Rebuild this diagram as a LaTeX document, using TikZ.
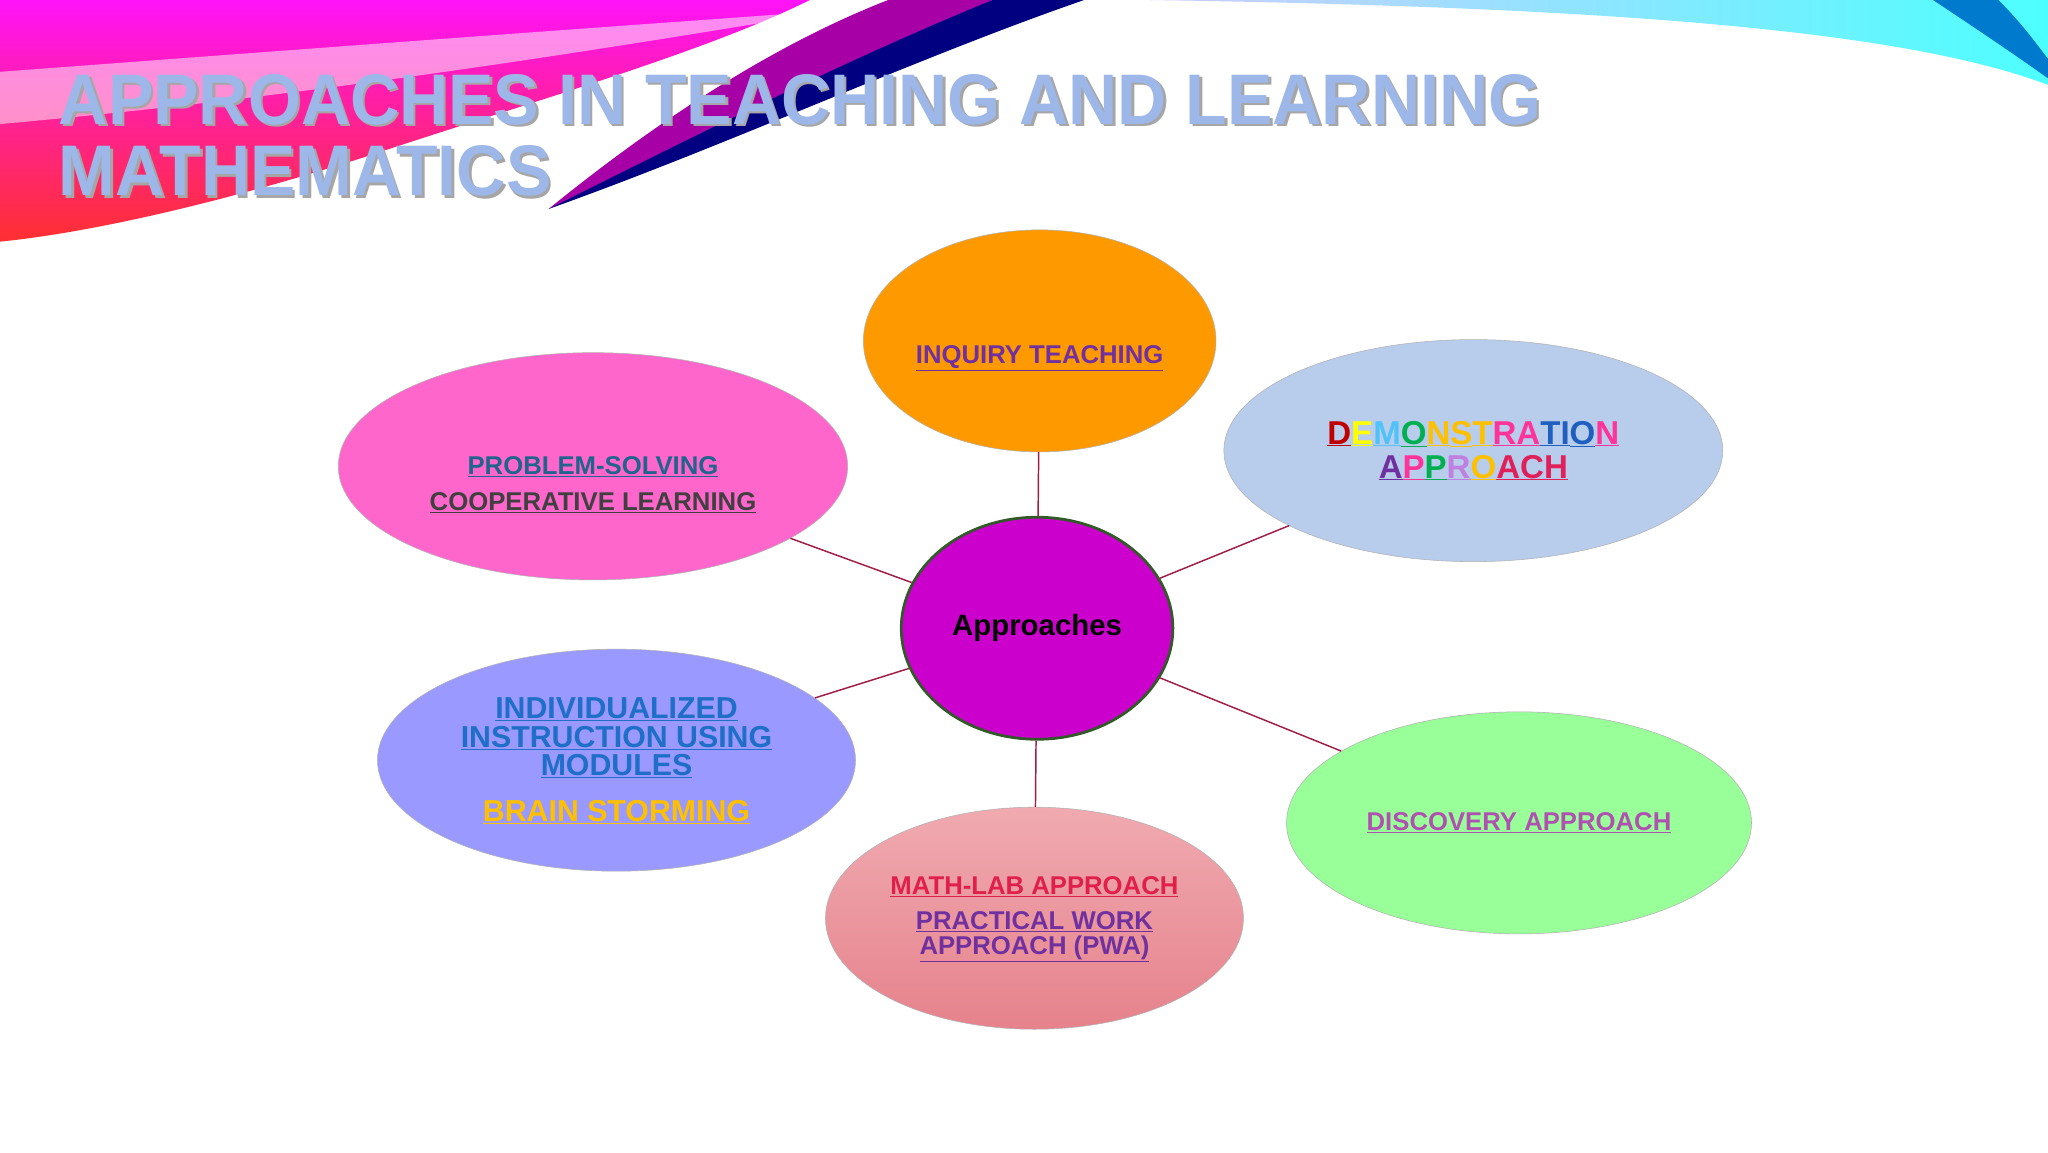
\documentclass[tikz,border=0pt]{standalone}
\usepackage{fontspec}
\setmainfont{Liberation Sans}
\usetikzlibrary{shapes.geometric}
\begin{document}
\begin{tikzpicture}[x=0.05cm,y=-0.05cm,
 bub/.style={ellipse,draw=gray!60,line width=0.6pt,inner sep=0pt},
 conn/.style={draw={rgb,255:red,160;green,30;blue,70},line width=1.6pt},
 lab/.style={font=\bfseries\fontsize{28}{34}\selectfont,align=center}]
\useasboundingbox (0,0) rectangle (1568,882);
\fill[white] (0,0) rectangle (1568,882);
% background swooshes
\shade[top color=magenta!90!pink, bottom color=red!75!pink] (0,0) -- (620,0) .. controls (540,40) and (400,80) .. (280,120) .. controls (170,155) and (70,178) .. (0,185) -- cycle;
\fill[white,opacity=0.5] (0,55) .. controls (200,40) and (400,25) .. (640,8) .. controls (420,45) and (220,75) .. (0,95) -- cycle;
\fill[violet!70!magenta] (680,0) -- (760,0) .. controls (640,55) and (520,115) .. (420,160) .. controls (500,95) and (590,35) .. (680,0) -- cycle;
\fill[blue!50!black] (760,0) -- (830,0) .. controls (700,45) and (560,110) .. (420,160) .. controls (540,100) and (650,45) .. (760,0) -- cycle;
\shade[left color=blue!20!white, right color=cyan!70] (880,0) -- (1568,0) -- (1568,65) .. controls (1450,20) and (1200,5) .. (880,0) -- cycle;
\fill[blue!40!cyan!80!black] (1480,0) -- (1530,0) .. controls (1550,20) and (1560,35) .. (1568,45) -- (1568,60) .. controls (1540,40) and (1510,20) .. (1480,0) -- cycle;
% title
\begin{scope}[font=\bfseries\fontsize{78}{80}\selectfont]
\node[anchor=base west,inner sep=0pt,text=gray!70] at (47,97) {\resizebox{56.75cm}{\height}{APPROACHES IN TEACHING AND LEARNING}};
\node[anchor=base west,inner sep=0pt,text=gray!70] at (47,152) {\resizebox{18.85cm}{\height}{MATHEMATICS}};
\node[anchor=base west,inner sep=0pt,text={rgb,255:red,157;green,184;blue,232}] (t1) at (45,95) {\resizebox{56.75cm}{\height}{APPROACHES IN TEACHING AND LEARNING}};
\node[anchor=base west,inner sep=0pt,text={rgb,255:red,157;green,184;blue,232}] (t2) at (45,150) {\resizebox{18.85cm}{\height}{MATHEMATICS}};
\end{scope}
% bubbles
\node[bub,fill={rgb,255:red,255;green,153;blue,0},minimum width=13.5cm,minimum height=8.5cm] (inq) at (796,261) {};
\node[bub,fill={rgb,255:red,255;green,102;blue,204},minimum width=19.5cm,minimum height=8.7cm] (ps) at (454,357) {};
\node[bub,fill={rgb,255:red,184;green,204;blue,236},minimum width=19.1cm,minimum height=8.5cm] (dem) at (1128,345) {};
\node[bub,fill={rgb,255:red,153;green,153;blue,255},minimum width=18.3cm,minimum height=8.5cm] (ind) at (472,582) {};
\node[bub,top color={rgb,255:red,240;green,170;blue,176},bottom color={rgb,255:red,230;green,130;blue,140},minimum width=16cm,minimum height=8.5cm] (ml) at (792,703) {};
\node[bub,fill={rgb,255:red,153;green,255;blue,153},minimum width=17.8cm,minimum height=8.5cm] (dis) at (1163,630) {};
\node[ellipse,draw={rgb,255:red,50;green,90;blue,40},line width=3pt,fill={rgb,255:red,204;green,0;blue,204},minimum width=10.4cm,minimum height=8.5cm,font=\bfseries\fontsize{32}{36}\selectfont] (c) at (794,481) {Approaches};
% connectors
\draw[conn] (c) -- (inq);
\draw[conn] (c) -- (ps);
\draw[conn] (c) -- (dem);
\draw[conn] (c) -- (ind);
\draw[conn] (c) -- (ml);
\draw[conn] (c) -- (dis);
% labels
\node[lab,text={rgb,255:red,112;green,48;blue,160}] at (796,274) {\underline{INQUIRY TEACHING}};
\node[lab,text={rgb,255:red,31;green,100;blue,140}] at (454,357) {\underline{PROBLEM-SOLVING}};
\node[lab,text={rgb,255:red,64;green,64;blue,64}] at (454,385) {\underline{COOPERATIVE LEARNING}};
\node[lab,font=\bfseries\fontsize{33}{31}\selectfont,text={rgb,255:red,31;green,110;blue,200}] at (472,565) {\underline{INDIVIDUALIZED}\\\underline{INSTRUCTION USING}\\\underline{MODULES}};
\node[lab,font=\bfseries\fontsize{33}{36}\selectfont,text={rgb,255:red,255;green,192;blue,0}] at (472,622) {\underline{BRAIN STORMING}};
\node[lab,text={rgb,255:red,224;green,32;blue,75}] at (792,679) {\underline{MATH-LAB APPROACH}};
\node[lab,font=\bfseries\fontsize{28}{27}\selectfont,text={rgb,255:red,112;green,48;blue,160}] at (792,717) {\underline{PRACTICAL WORK}\\\underline{APPROACH (PWA)}};
\node[lab,text={rgb,255:red,176;green,80;blue,176}] at (1163,630) {\underline{DISCOVERY APPROACH}};
\definecolor{dR}{RGB}{192,0,0}\definecolor{dY}{RGB}{255,255,0}\definecolor{dS}{RGB}{79,195,247}
\definecolor{dG}{RGB}{0,176,80}\definecolor{dO}{RGB}{255,192,0}\definecolor{dP}{RGB}{255,51,153}
\definecolor{dB}{RGB}{31,95,191}\definecolor{dV}{RGB}{112,48,160}\definecolor{dL}{RGB}{192,128,224}\definecolor{dC}{RGB}{224,32,90}
\newcommand{\cl}[2]{\textcolor{#1}{\underline{#2}}}
\node[lab,font=\bfseries\fontsize{36}{37}\selectfont] at (1128,345) {\cl{dR}{D}\cl{dY}{E}\cl{dS}{M}\cl{dG}{O}\cl{dO}{N}\cl{dO}{S}\cl{dO}{T}\cl{dP}{R}\cl{dP}{A}\cl{dB}{T}\cl{dB}{I}\cl{dB}{O}\cl{dP}{N}\\
\cl{dV}{A}\cl{dP}{P}\cl{dG}{P}\cl{dL}{R}\cl{dO}{O}\cl{dC}{A}\cl{dC}{C}\cl{dC}{H}};
\end{tikzpicture}
\end{document}
